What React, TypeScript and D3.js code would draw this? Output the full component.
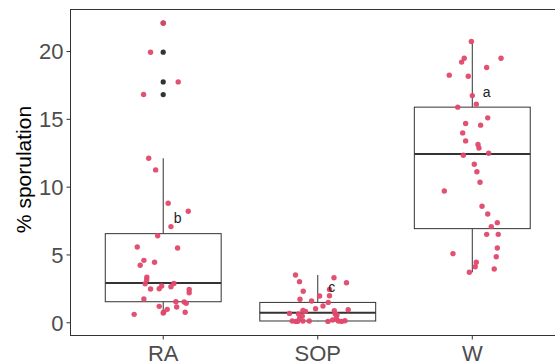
import * as d3 from "d3";

const categories = ["RA", "SOP", "W"];
const yTicks = [0, 5, 10, 15, 20];

// Box statistics per category.
const q1 = [1.55, 0.13, 6.94];
const median = [2.93, 0.74, 12.45];
const q3 = [6.57, 1.5, 15.9];
const whiskerLow = [0.65, 0.1, 3.72];
const whiskerHigh = [12.13, 3.52, 20.74];
const outliersRA = [22.1, 19.95, 17.76, 16.83];
const letters = ["b", "c", "a"];

// Jittered observations: value and horizontal jitter (category units).
const raValues = [22.1, 19.95, 17.76, 16.83, 12.13, 11.27, 8.81, 8.22, 7.09, 6.42, 5.59, 5.51, 4.6, 4.46, 4.24, 3.35, 3.15, 2.88, 2.9, 2.71, 2.66, 2.49, 2.51, 2.46, 2.21, 1.75, 1.55, 1.53, 1.43, 1.21, 1.16, 0.99, 0.77, 0.72, 0.77, 0.62];
const raJitter = [0, -0.082, 0.097, -0.127, -0.094, -0.049, 0.032, 0.162, 0.05, -0.036, -0.168, 0.093, -0.125, -0.056, -0.149, -0.106, -0.107, -0.117, 0.069, -0.01, 0.05, -0.082, -0.026, 0.168, 0.168, -0.125, 0.082, 0.136, 0.149, -0.026, 0.087, 0.026, 0.003, 0, 0.142, -0.188];
const sopValues = [3.52, 3.32, 3.03, 2.95, 2.32, 2.46, 1.97, 1.99, 1.73, 1.6, 1.5, 1.23, 1.03, 0.96, 0.91, 0.84, 0.89, 0.69, 0.64, 0.64, 0.57, 0.49, 0.32, 0.32, 0.13, 0.1, 0.1, 0.13, 0.13, 0.1, 0.13, 0.1, 0.15, 0.2];
const sopJitter = [-0.144, 0.105, -0.118, 0.186, -0.094, 0.076, 0.012, 0.076, -0.115, -0.04, 0.068, 0.034, -0.014, 0.197, -0.096, -0.079, 0.107, -0.183, -0.124, 0.113, 0.124, -0.1, -0.118, 0.12, -0.165, -0.141, -0.131, -0.096, -0.055, 0.066, 0.133, 0.154, 0.176, 0.096];
const wValues = [20.74, 19.51, 19.51, 19.22, 18.82, 18.26, 18.18, 16.75, 16.12, 15.9, 15.11, 14.69, 14.57, 14.0, 13.41, 13.14, 12.89, 12.5, 12.35, 11.69, 11.14, 10.36, 9.72, 8.59, 8.02, 7.38, 7.09, 6.52, 6.52, 5.51, 5.09, 4.87, 4.46, 4.13, 3.96, 3.72];
const wJitter = [-0.006, -0.052, 0.186, -0.069, 0.093, -0.149, -0.026, 0, 0.026, -0.094, 0.1, -0.043, 0.054, -0.062, -0.043, 0.037, 0.043, 0.106, -0.058, 0.013, 0.03, 0.05, -0.181, 0.063, 0.1, 0.162, 0.123, 0.093, 0.168, 0.162, -0.125, 0.155, 0.026, 0.019, 0.142, -0.019];

const W = 555;
const H = 363;
const PANEL = { left: 70.5, top: 9.5, right: 565, bottom: 335.5 };
const FONT = "'Liberation Sans', Arial, sans-serif";
const POINT = "#E2486A";
const INK = "#333333";

export default function App() {
  // ggplot-style discrete axis: categories at 1..n, 0.6 expansion each side
  const x = d3.scaleLinear().domain([0.4, categories.length + 0.6]).range([PANEL.left, PANEL.right]);
  const y = d3.scaleLinear().domain([-0.94, 23.1]).range([PANEL.bottom, PANEL.top]);
  const halfBox = 0.375;

  const points = [
    ...raValues.map((v, i) => ({ c: 0, v, j: raJitter[i] })),
    ...sopValues.map((v, i) => ({ c: 1, v, j: sopJitter[i] })),
    ...wValues.map((v, i) => ({ c: 2, v, j: wJitter[i] })),
  ];

  return (
    <div style={{ position: "fixed", left: 0, top: 0 }}>
      <svg width={W} height={H} style={{ display: "block", background: "#fff" }}>
        {/* boxes */}
        {categories.map((c, i) => {
          const cx = x(i + 1);
          const x0 = x(i + 1 - halfBox);
          const x1 = x(i + 1 + halfBox);
          return (
            <g key={c} stroke={INK} fill="none">
              <line x1={cx} x2={cx} y1={y(q3[i])} y2={y(whiskerHigh[i])} strokeWidth={1} />
              <line x1={cx} x2={cx} y1={y(q1[i])} y2={y(whiskerLow[i])} strokeWidth={1} />
              <rect x={x0} y={y(q3[i])} width={x1 - x0} height={y(q1[i]) - y(q3[i])} fill="#fff" strokeWidth={1} />
              <line x1={x0} x2={x1} y1={y(median[i])} y2={y(median[i])} strokeWidth={2} />
            </g>
          );
        })}
        {outliersRA.map((v, k) => (
          <circle key={"o" + k} cx={x(1)} cy={y(v)} r={2.6} fill={INK} />
        ))}
        {/* jittered points */}
        {points.map((p, k) => (
          <circle key={k} cx={x(p.c + 1 + p.j)} cy={y(p.v)} r={2.7} fill={POINT} fillOpacity={0.95} />
        ))}
        {/* significance letters */}
        {letters.map((l, i) => (
          <text
            key={"l" + i}
            x={x(i + 1 + 0.068)}
            y={y(q3[i] + 1.15)}
            dominantBaseline="central"
            fontFamily={FONT}
            fontSize={14}
            fill="#222"
          >
            {l}
          </text>
        ))}
        {/* panel border */}
        <rect
          x={PANEL.left}
          y={PANEL.top}
          width={PANEL.right - PANEL.left}
          height={PANEL.bottom - PANEL.top}
          fill="none"
          stroke={INK}
          strokeWidth={1}
        />
        {/* y axis */}
        {yTicks.map((t) => (
          <g key={t}>
            <line x1={PANEL.left - 4} x2={PANEL.left} y1={y(t)} y2={y(t)} stroke={INK} />
            <text
              x={PANEL.left - 7}
              y={y(t)}
              dy="0.36em"
              textAnchor="end"
              fontFamily={FONT}
              fontSize={22}
              fill="#4D4D4D"
            >
              {t}
            </text>
          </g>
        ))}
        {/* x axis */}
        {categories.map((c, i) => (
          <g key={c}>
            <line x1={x(i + 1)} x2={x(i + 1)} y1={PANEL.bottom} y2={PANEL.bottom + 4} stroke={INK} />
            <text
              x={x(i + 1)}
              y={PANEL.bottom + 25.5}
              textAnchor="middle"
              fontFamily={FONT}
              fontSize={22}
              fill="#4D4D4D"
            >
              {c}
            </text>
          </g>
        ))}
        <text
          transform={`translate(31,${(PANEL.top + PANEL.bottom) / 2 - 3}) rotate(-90)`}
          textAnchor="middle"
          fontFamily={FONT}
          fontSize={21}
          fill="#000"
        >
          % sporulation
        </text>
      </svg>
    </div>
  );
}
